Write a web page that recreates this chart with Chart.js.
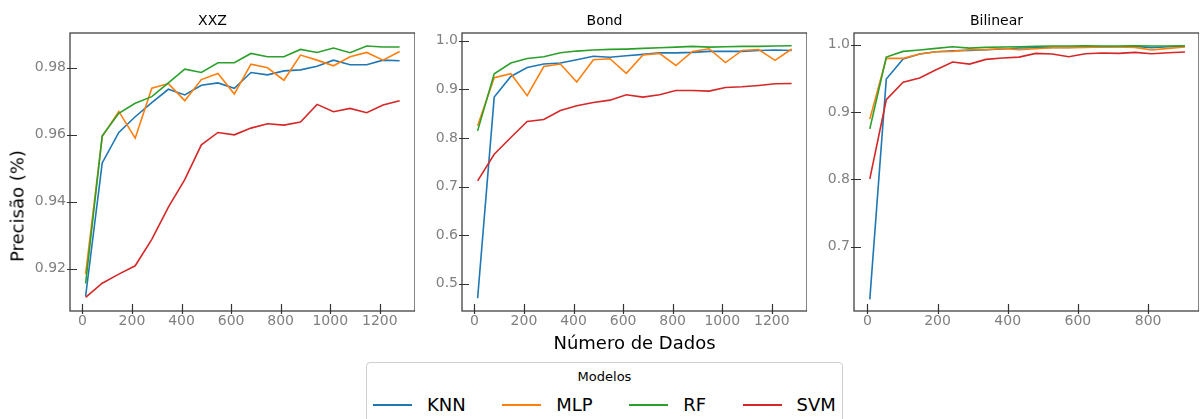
<!DOCTYPE html>
<html>
<head>
<meta charset="utf-8">
<script src="https://cdn.jsdelivr.net/npm/chart.js@4.4.0/dist/chart.umd.min.js"></script>
<style>
    body{margin:0; width:1200px; height:419px; background:#fff; position:relative; overflow:hidden; font-family:"DejaVu Sans", sans-serif;}
    canvas{position:absolute; top:0;}
    #ylab{position:absolute; left:17px; top:206px; transform:translate(-50%,-50%) rotate(-90deg); font-size:18px; white-space:nowrap; color:#000;}
    #legenda{position:absolute; left:366px; top:362px; width:477px; height:80px; box-sizing:border-box; border:1px solid #cfcfcf; border-radius:4px; background:#fff;}
    #legenda .tit{position:absolute; left:0; right:0; top:6px; line-height:16px; text-align:center; font-size:13px; color:#000;}
    #legenda .itens{position:absolute; left:6px; top:31px; height:22px; display:flex; align-items:center; font-size:18px; line-height:22px; color:#000;}
    #legenda .item{display:flex; align-items:center; margin-right:36.5px;}
    #legenda .traco{display:block; width:39px; height:2px; margin-right:15px;}
</style>
</head>
<body>
<canvas id="c_xxz" width="415" height="360" style="left:0px"></canvas>
<canvas id="c_bond" width="415" height="360" style="left:392px"></canvas>
<canvas id="c_bil" width="415" height="360" style="left:784px"></canvas>
<div id="ylab">Precisão (%)</div>
<div id="legenda"><div class="tit">Modelos</div><div class="itens" id="itens"></div></div>
<script>
//Dados
    //Modelos
        var nomes = ["KNN", "MLP", "RF", "SVM"];
        var cores = ["#1f77b4", "#ff7f0e", "#2ca02c", "#d62728"];
    //Número de dados em cada ponto
        var xXXZ = [13, 80, 147, 213, 280, 347, 413, 480, 547, 613, 680, 747, 813, 880, 947, 1013, 1080, 1147, 1213, 1280];
        var xBond = [13, 80, 147, 213, 280, 347, 413, 480, 547, 613, 680, 747, 813, 880, 947, 1013, 1080, 1147, 1213, 1280];
        var xBil = [7, 54, 102, 149, 196, 243, 291, 338, 385, 432, 480, 527, 574, 621, 669, 716, 763, 810, 858, 905];
    //XXZ
        var knnXXZ = [0.9118, 0.9516, 0.9607, 0.9654, 0.9696, 0.9736, 0.9719, 0.9748, 0.9755, 0.9739, 0.9786, 0.9779, 0.9791, 0.9794, 0.9805, 0.9823, 0.9809, 0.9809, 0.9823, 0.9821];
        var mlpXXZ = [0.9184, 0.9595, 0.9670, 0.9590, 0.9739, 0.9753, 0.9702, 0.9765, 0.9783, 0.9722, 0.9811, 0.9800, 0.9763, 0.9838, 0.9823, 0.9806, 0.9833, 0.9846, 0.9823, 0.9849];
        var rfXXZ = [0.9156, 0.9597, 0.9664, 0.9694, 0.9714, 0.9755, 0.9796, 0.9786, 0.9815, 0.9815, 0.9843, 0.9833, 0.9833, 0.9855, 0.9846, 0.9859, 0.9845, 0.9865, 0.9862, 0.9862];
        var svmXXZ = [0.9115, 0.9157, 0.9184, 0.9209, 0.9288, 0.9384, 0.9466, 0.9570, 0.9607, 0.9600, 0.9620, 0.9633, 0.9629, 0.9638, 0.9691, 0.9669, 0.9679, 0.9666, 0.9689, 0.9702];
    //Bond
        var knnBond = [0.470, 0.884, 0.9265, 0.945, 0.952, 0.954, 0.961, 0.968, 0.966, 0.969, 0.972, 0.975, 0.975, 0.976, 0.978, 0.978, 0.978, 0.980, 0.981, 0.980];
        var mlpBond = [0.825, 0.924, 0.932, 0.887, 0.947, 0.952, 0.915, 0.961, 0.963, 0.933, 0.9705, 0.974, 0.949, 0.978, 0.9835, 0.955, 0.980, 0.982, 0.9595, 0.983];
        var rfBond = [0.8145, 0.932, 0.954, 0.9636, 0.967, 0.9753, 0.9787, 0.9808, 0.9821, 0.9828, 0.9842, 0.9856, 0.9869, 0.9883, 0.9869, 0.9876, 0.9883, 0.9883, 0.989, 0.9897];
        var svmBond = [0.7115, 0.7664, 0.8008, 0.8337, 0.8379, 0.8564, 0.866, 0.8729, 0.8777, 0.8887, 0.8839, 0.8887, 0.8976, 0.8976, 0.8963, 0.9038, 0.9052, 0.908, 0.9114, 0.9121];
    //Bilinear
        var knnBil = [0.6216, 0.9489, 0.9787, 0.9861, 0.9896, 0.9911, 0.9916, 0.9926, 0.9936, 0.995, 0.9955, 0.996, 0.996, 0.9965, 0.9965, 0.997, 0.9975, 0.9955, 0.997, 0.998];
        var mlpBil = [0.8894, 0.9797, 0.9797, 0.9861, 0.9896, 0.9901, 0.9926, 0.9926, 0.9945, 0.9926, 0.994, 0.9955, 0.9955, 0.996, 0.9965, 0.9965, 0.996, 0.9921, 0.9945, 0.9965];
        var rfBil = [0.875, 0.9816, 0.9901, 0.9921, 0.9945, 0.997, 0.995, 0.996, 0.9965, 0.997, 0.9975, 0.998, 0.998, 0.9985, 0.998, 0.998, 0.9985, 0.998, 0.998, 0.9985];
        var svmBil = [0.8006, 0.9182, 0.9444, 0.9504, 0.9628, 0.9742, 0.9712, 0.9782, 0.9802, 0.9816, 0.9871, 0.9861, 0.9821, 0.9866, 0.9876, 0.9871, 0.9886, 0.9866, 0.9881, 0.9891];
    //Marcas dos eixos
        var xTicks1280 = [0, 200, 400, 600, 800, 1000, 1200];
        var xTicks900 = [0, 200, 400, 600, 800];
        var yTicksXXZ = [0.92, 0.94, 0.96, 0.98];
        var yTicksBond = [0.5, 0.6, 0.7, 0.8, 0.9, 1.0];
        var yTicksBil = [0.7, 0.8, 0.9, 1.0];

//Configuração geral
    Chart.defaults.font.family = "'DejaVu Sans', sans-serif";
    Chart.defaults.animation = false;

//Plugin que desenha a moldura e os tracinhos dos eixos
    var moldura = {
        id: "moldura",
        afterDatasetsDraw: function(chart){
            var ctx = chart.ctx, a = chart.chartArea;
            var sx = chart.scales.x, sy = chart.scales.y;
            ctx.save();
            ctx.strokeStyle = "#333";
            ctx.lineWidth = 1.2;
            ctx.beginPath();
            sx.ticks.forEach(function(t){
                var px = Math.round(sx.getPixelForValue(t.value)) + 0.5;
                ctx.moveTo(px, a.bottom + 3);
                ctx.lineTo(px, a.bottom - 7);
            });
            sy.ticks.forEach(function(t){
                var py = Math.round(sy.getPixelForValue(t.value)) + 0.5;
                ctx.moveTo(a.left - 3, py);
                ctx.lineTo(a.left + 7, py);
            });
            ctx.stroke();
            ctx.strokeRect(a.left, a.top, a.right - a.left, a.bottom - a.top);
            ctx.restore();
        }
    };

//Função que monta um painel
    function painel(id, titulo, xs, series, xMin, xMax, yMin, yMax, xTicks, yTicks, casas, xTitulo){
        var datasets = [];
        for(var i = 0; i < series.length; i++){
            var pts = [];
            for(var k = 0; k < xs.length; k++) pts.push({x: xs[k], y: series[i][k]});
            datasets.push({
                label: nomes[i], data: pts,
                borderColor: cores[i], backgroundColor: cores[i],
                borderWidth: 1.6, pointRadius: 0, tension: 0, fill: false,
                order: series.length - i
            });
        }
        return new Chart(document.getElementById(id), {
            type: "line",
            data: {datasets: datasets},
            plugins: [moldura],
            options: {
                responsive: false,
                layout: {padding: {left: 10, right: 0, top: 0, bottom: 5}},
                plugins: {
                    legend: {display: false},
                    tooltip: {enabled: false},
                    title: {display: true, text: titulo, color: "#000",
                        font: {size: 14, weight: "normal"}, padding: {top: 13, bottom: 3.2}}
                },
                scales: {
                    x: {
                        type: "linear", min: xMin, max: xMax,
                        grid: {display: false, drawTicks: false},
                        border: {display: false},
                        ticks: {color: "#808080", font: {size: 14}, padding: 2, maxRotation: 0,
                            callback: function(v){ return String(v); }},
                        afterBuildTicks: function(s){ s.ticks = xTicks.map(function(v){ return {value: v}; }); },
                        afterFit: function(s){ s.height = 44; },
                        title: {display: !!xTitulo, text: xTitulo || "", color: "#000",
                            font: {size: 18}, padding: {top: 0, bottom: 0}}
                    },
                    y: {
                        type: "linear", min: yMin, max: yMax,
                        grid: {display: false, drawTicks: false},
                        border: {display: false},
                        ticks: {color: "#808080", font: {size: 14}, padding: 4,
                            callback: function(v){ return Number(v).toFixed(casas); }},
                        afterBuildTicks: function(s){ s.ticks = yTicks.map(function(v){ return {value: v}; }); },
                        afterFit: function(s){ s.width = 60; }
                    }
                }
            }
        });
    }

//Painéis
    painel("c_xxz", "XXZ", xXXZ, [knnXXZ, mlpXXZ, rfXXZ, svmXXZ], -50, 1342, 0.9074, 0.9904, xTicks1280, yTicksXXZ, 2);
    painel("c_bond", "Bond", xBond, [knnBond, mlpBond, rfBond, svmBond], -50, 1342, 0.4438, 1.0159, xTicks1280, yTicksBond, 1, "Número de Dados");
    painel("c_bil", "Bilinear", xBil, [knnBil, mlpBil, rfBil, svmBil], -38, 945, 0.6043, 1.0174, xTicks900, yTicksBil, 1);

//Legenda
    var itens = document.getElementById("itens");
    for(var j = 0; j < nomes.length; j++){
        var it = document.createElement("div");
        it.className = "item";
        var traco = document.createElement("span");
        traco.className = "traco";
        traco.style.backgroundColor = cores[j];
        var txt = document.createElement("span");
        txt.textContent = nomes[j];
        it.appendChild(traco);
        it.appendChild(txt);
        itens.appendChild(it);
    }
</script>
</body>
</html>
